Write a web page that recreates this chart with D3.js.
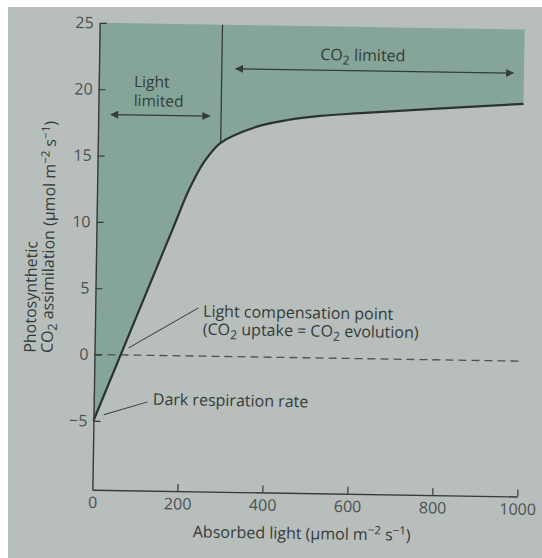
<!DOCTYPE html>
<html>
<head>
<meta charset="utf-8">
<script src="https://cdn.jsdelivr.net/npm/d3@7"></script>
<style>
  body { margin: 0; background: #ffffff; }
  text { font-family: "Open Sans", "DejaVu Sans", sans-serif; }
</style>
</head>
<body>
<div id="chart"></div>
<script>
var svgWidth = 542;
var svgHeight = 558;

// light response curve
var lightVals = [0, 180, 216, 250, 289, 368, 446, 523, 617, 1000];
var assimVals = [-5, 9.6, 12.5, 14.6, 16.1, 17.3, 17.9, 18.25, 18.5, 19.4];

var xTicks = [0, 200, 400, 600, 800, 1000];
var yTicks = [-5, 0, 5, 10, 15, 20, 25];

// region divider (light limited | CO2 limited)
var dividerX = 289;
var dividerBottom = 16.1;

var paper = "#b7bebc";
var shade = "#84a598";
var ink = "#343b39";

var svg = d3.select("#chart")
  .append("svg")
  .attr("width", svgWidth)
  .attr("height", svgHeight);

svg.append("rect")
  .attr("width", svgWidth)
  .attr("height", svgHeight)
  .attr("fill", paper);

// white page edges of the photo
svg.append("rect").attr("width", svgWidth).attr("height", 7).attr("fill", "#fff");
svg.append("rect").attr("width", 8).attr("height", svgHeight).attr("fill", "#fff");

// the photo is a bit tilted
var g = svg.append("g")
  .attr("transform", "rotate(0.9, 300, 260)");

var x = d3.scaleLinear().domain([0, 1000]).range([96, 521]);
var y = d3.scaleLinear().domain([-10.2, 25]).range([493, 26]);

var data = lightVals.map((d, i) => [d, assimVals[i]]);

var defs = svg.append("defs");
defs.append("marker")
  .attr("id", "head")
  .attr("viewBox", "0 0 10 10")
  .attr("refX", 9)
  .attr("refY", 5)
  .attr("markerWidth", 9)
  .attr("markerHeight", 8)
  .attr("markerUnits", "userSpaceOnUse")
  .attr("orient", "auto-start-reverse")
  .append("path")
  .attr("d", "M0,0 L10,5 L0,10 z")
  .attr("fill", ink);

var curve = d3.curveCatmullRom.alpha(0.5);

// shaded area above the curve
var area = d3.area()
  .x(d => x(d[0]))
  .y0(y(25))
  .y1(d => y(d[1]))
  .curve(curve);

g.append("path")
  .datum(data)
  .attr("d", area)
  .attr("fill", shade);

// divider line
g.append("line")
  .attr("x1", x(dividerX)).attr("x2", x(dividerX))
  .attr("y1", y(25)).attr("y2", y(dividerBottom))
  .attr("stroke", ink)
  .attr("stroke-width", 1.3);

// zero line
g.append("line")
  .attr("x1", x(0)).attr("x2", x(1000))
  .attr("y1", y(0)).attr("y2", y(0))
  .attr("stroke", "#4a5250")
  .attr("stroke-width", 1.3)
  .attr("stroke-dasharray", "8,5");

// curve
var line = d3.line()
  .x(d => x(d[0]))
  .y(d => y(d[1]))
  .curve(curve);

g.append("path")
  .datum(data)
  .attr("d", line)
  .attr("fill", "none")
  .attr("stroke", "#2c3230")
  .attr("stroke-width", 2.2);

// axes
var leftAxis = d3.axisLeft(y)
  .tickValues(yTicks)
  .tickFormat(d3.format("d"))
  .tickSizeInner(-7)
  .tickSizeOuter(0)
  .tickPadding(6);

var bottomAxis = d3.axisBottom(x)
  .tickValues(xTicks)
  .tickFormat(d3.format("d"))
  .tickSizeInner(-7)
  .tickSizeOuter(0)
  .tickPadding(7);

var yAxis = g.append("g")
  .attr("transform", `translate(${x(0)},0)`)
  .call(leftAxis);

var xAxis = g.append("g")
  .attr("transform", `translate(0,${y(-10.2)})`)
  .call(bottomAxis);

[xAxis, yAxis].forEach(function(ax) {
  ax.attr("font-size", null).attr("font-family", null);
  ax.select(".domain").attr("stroke", ink).attr("stroke-width", 1.4);
  ax.selectAll(".tick line").attr("stroke", ink).attr("stroke-width", 1.2);
  ax.selectAll(".tick text")
    .attr("fill", "#4a5250")
    .style("font-size", "16px");
});
xAxis.selectAll(".tick").filter(d => d === 0).select("line").remove();

// multi-line text with sub/superscripts; each shift is undone on the next piece
function label(px, py, lines, size, opts) {
  opts = opts || {};
  var t = g.append("text")
    .attr("fill", ink)
    .attr("text-anchor", opts.anchor || "start")
    .style("font-size", size + "px");
  if (opts.transform) t.attr("transform", opts.transform);
  else t.attr("x", px).attr("y", py);
  var back = 0;
  lines.forEach(function(parts, li) {
    parts.forEach(function(p, pi) {
      var s = t.append("tspan").text(p[0]);
      var shift = 0;
      if (p[1] === "sub") {
        shift = 4;
        s.style("font-size", (size * 0.78) + "px");
      } else if (p[1] === "sup") {
        shift = -6;
        s.style("font-size", (size * 0.72) + "px");
      }
      var dy = shift - back;
      if (li > 0 && pi === 0) {
        s.attr("x", opts.transform ? 0 : px);
        dy += opts.lineH;
      }
      if (dy !== 0) s.attr("dy", dy);
      back = shift;
    });
  });
  return t;
}

// region labels
label(x(83), y(20.2), [[["Light"]], [["limited"]]], 15.5, { lineH: 19 });
g.append("line")
  .attr("x1", x(30)).attr("x2", x(262))
  .attr("y1", y(18.1)).attr("y2", y(18.1))
  .attr("stroke", ink).attr("stroke-width", 1.3)
  .attr("marker-start", "url(#head)")
  .attr("marker-end", "url(#head)");

label(x(520), y(22.45), [[["CO"], ["2", "sub"], [" limited"]]], 16);
g.append("line")
  .attr("x1", x(322)).attr("x2", x(975))
  .attr("y1", y(21.7)).attr("y2", y(21.7))
  .attr("stroke", ink).attr("stroke-width", 1.3)
  .attr("marker-start", "url(#head)")
  .attr("marker-end", "url(#head)");

// compensation point
label(x(254), y(2.97), [
  [["Light compensation point"]],
  [["(CO"], ["2", "sub"], [" uptake = CO"], ["2", "sub"], [" evolution)"]]
], 16, { lineH: 18 });
g.append("line")
  .attr("x1", x(243)).attr("y1", y(3.63))
  .attr("x2", x(80)).attr("y2", y(0.54))
  .attr("stroke", ink).attr("stroke-width", 1);

// dark respiration
label(x(139), y(-3.73), [[["Dark respiration rate"]]], 16);
g.append("line")
  .attr("x1", x(127)).attr("y1", y(-3.51))
  .attr("x2", x(24)).attr("y2", y(-4.54))
  .attr("stroke", ink).attr("stroke-width", 1);

// axis titles
label(306, 539, [[["Absorbed light (\u00b5mol m"], ["\u22122", "sup"], [" s"], ["\u22121", "sup"], [")"]]], 16, { anchor: "middle" });

label(0, 0, [
  [["Photosynthetic"]],
  [["CO"], ["2", "sub"], [" assimilation (\u00b5mol m"], ["\u22122", "sup"], [" s"], ["\u22121", "sup"], [")"]]
], 16, { transform: "translate(37,357) rotate(-90)", lineH: 17 });
</script>
</body>
</html>
